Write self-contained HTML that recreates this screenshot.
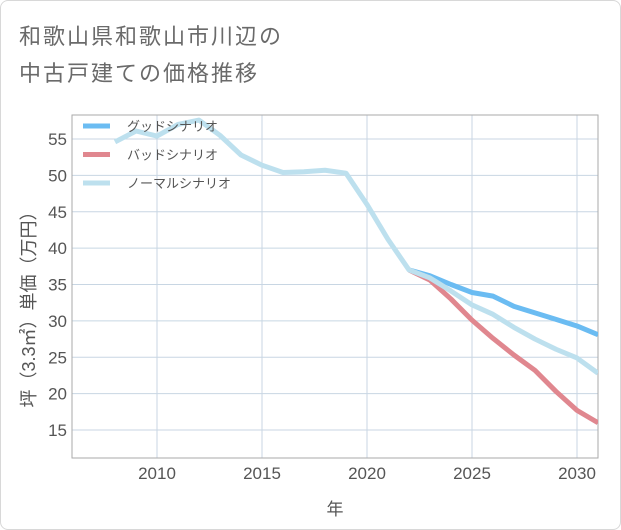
<!DOCTYPE html>
<html><head><meta charset="utf-8"><style>
body{margin:0;background:#fff;}
#card{position:relative;width:619px;height:528px;border:1px solid #d8d8d8;border-radius:8px;background:#fff;font-family:"Liberation Sans","Noto Sans CJK JP",sans-serif;overflow:hidden;}
.title{position:absolute;left:18px;font-size:22px;color:#6a6a6a;letter-spacing:2px;white-space:nowrap;}
</style></head><body>
<div id="card">
<div class="title" style="top:18px">和歌山県和歌山市川辺の</div>
<div class="title" style="top:55px">中古戸建ての価格推移</div>
<svg id="chart" width="621" height="530" style="position:absolute;left:-1px;top:-1px"></svg>
</div>
<script>
const years=[2008,2009,2010,2011,2012,2013,2014,2015,2016,2017,2018,2019,2020,2021,2022,2023,2024,2025,2026,2027,2028,2029,2030,2031];
const normalValues=[54.6,56.1,55.4,57.0,57.6,55.5,52.8,51.4,50.4,50.5,50.7,50.3,46.0,41.2,37.0,35.9,34.1,32.2,30.9,29.1,27.5,26.1,24.9,22.8];
const goodYears=[2022,2023,2024,2025,2026,2027,2028,2029,2030,2031];
const goodValues=[37.0,36.2,35.0,33.9,33.4,32.0,31.1,30.2,29.3,28.1];
const badValues=[37.0,35.6,33.0,30.1,27.6,25.3,23.2,20.3,17.7,16.0];
const xTicks=[2010,2015,2020,2025,2030];
const yTicks=[15,20,25,30,35,40,45,50,55];
const legendLabels=["グッドシナリオ","バッドシナリオ","ノーマルシナリオ"];
const colors=["#6bbcf2","#e0878f","#bde0ee"];

const svg=document.getElementById('chart');
const NS='http://www.w3.org/2000/svg';
const L=72,R=598,T=115,B=458;
const X=y=>157+(y-2010)*21;
const Y=v=>139+(55-v)*7.275;
function mk(tag,attrs){const e=document.createElementNS(NS,tag);for(const k in attrs)e.setAttribute(k,attrs[k]);svg.appendChild(e);return e;}

xTicks.forEach(t=>{
  const g=mk('line',{x1:X(t),x2:X(t),y1:T,y2:B,stroke:'#c8d6e3','stroke-width':1});
  
  
  const tx=mk('text',{x:X(t),y:B+21,'text-anchor':'middle','font-size':17,fill:'#555'});
  tx.textContent=t;
  
  
});
yTicks.forEach(t=>{
  const g=mk('line',{x1:L,x2:R,y1:Y(t),y2:Y(t),stroke:'#c8d6e3','stroke-width':1});
  
  
  const tx=mk('text',{x:L-5,y:Y(t)+6,'text-anchor':'end','font-size':17,fill:'#555'});
  tx.textContent=t;
  
  
});
const frame=mk('rect',{x:L,y:T,width:R-L,height:B-T,fill:'none',stroke:'#aaa','stroke-width':1});



const clip=document.createElementNS(NS,'clipPath');clip.id='pc';
const cr=document.createElementNS(NS,'rect');cr.setAttribute('x',L);cr.setAttribute('y',T);cr.setAttribute('width',R-L);cr.setAttribute('height',B-T);
clip.appendChild(cr);svg.appendChild(clip);

function line(xs,vs,color,name){
  const p=mk('polyline',{points:xs.map((y,i)=>X(y)+','+Y(vs[i])).join(' '),fill:'none',stroke:color,'stroke-width':5,'stroke-linejoin':'round','clip-path':'url(#pc)'});
  
  
}
line(goodYears,goodValues,colors[0],'good-scenario-line');
line(goodYears,badValues,colors[1],'bad-scenario-line');
line(years,normalValues,colors[2],'normal-scenario-line');

legendLabels.forEach((lab,i)=>{
  const y=126+i*28.5;
  const s=mk('line',{x1:83,x2:110,y1:y,y2:y,stroke:colors[i],'stroke-width':5});
  
  
  const t=mk('text',{x:127,y:y+5,'font-size':13,fill:'#555'});
  t.textContent=lab;
  
  
});
const xt=mk('text',{x:335,y:515,'text-anchor':'middle','font-size':17,fill:'#555'});
xt.textContent='年';


const yt=mk('text',{x:0,y:0,'text-anchor':'middle','font-size':18,fill:'#555',transform:'translate(35,305) rotate(-90)'});
yt.textContent='坪（3.3㎡）単価（万円）';


</script>
</body></html>
